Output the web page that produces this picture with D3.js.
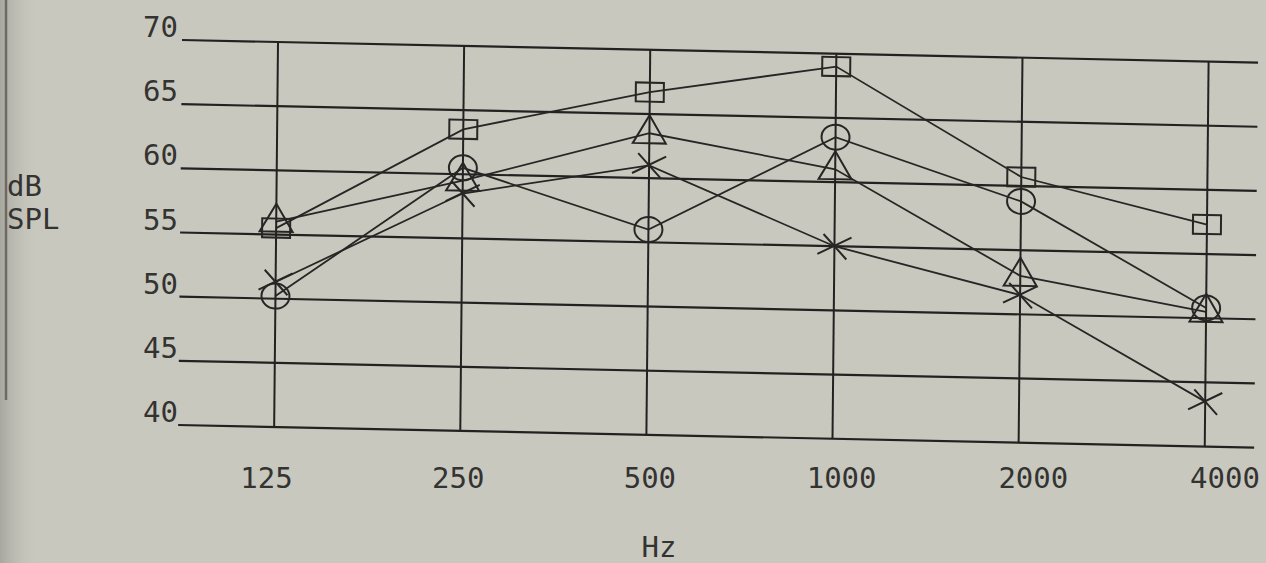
<!DOCTYPE html>
<html><head><meta charset="utf-8">
<script src="https://cdn.jsdelivr.net/npm/d3@7"></script>
<style>html,body{margin:0;padding:0;background:#c9c8bf;overflow:hidden}</style>
</head><body><svg id="c" width="1266" height="563"></svg>
<script>
// ---- data ----
const frequencies = ["125", "250", "500", "1000", "2000", "4000"];
const yTicks = [70, 65, 60, 55, 50, 45, 40];
const squareSeries   = [55.5, 63.5, 66.7, 69.0, 60.7, 57.3];
const triangleSeries = [56.0, 59.5, 63.5, 61.0, 53.0, 50.5];
const circleSeries   = [50.2, 60.5, 56.0, 63.5, 58.8, 50.8];
const crossSeries    = [51.3, 58.5, 61.0, 55.0, 51.5, 43.5];
const yLabelLines = ["dB", "SPL"];
const xLabel = "Hz";

const series = [
  {marker: "square", values: squareSeries},
  {marker: "triangle", values: triangleSeries},
  {marker: "circle", values: circleSeries},
  {marker: "cross", values: crossSeries}
];

// ---- drawing ----
const W = 1266, H = 563;
const ink = "#222220";
const FONT = "'DejaVu Sans Mono', 'Liberation Mono', monospace";
const svg = d3.select("#c");

const defs = svg.append("defs");
const grad = defs.append("linearGradient").attr("id", "edge").attr("x1", 0).attr("x2", 1).attr("y1", 0).attr("y2", 0);
grad.append("stop").attr("offset", 0).attr("stop-color", "#a8a79f").attr("stop-opacity", 1);
grad.append("stop").attr("offset", 1).attr("stop-color", "#c9c8bf").attr("stop-opacity", 0);

svg.append("rect").attr("width", W).attr("height", H).attr("fill", "#c9c8bf");
svg.append("rect").attr("width", 40).attr("height", H).attr("fill", "url(#edge)");
svg.append("line").attr("x1", 6).attr("x2", 6).attr("y1", 0).attr("y2", 400)
  .attr("stroke", "#6b6a64").attr("stroke-width", 2.5);

const x = d3.scalePoint().domain(frequencies).range([278, 1208.6]);
const xLab = d3.scalePoint().domain(frequencies).range([266.5, 1225]);
const y = d3.scaleLinear().domain([40, 70]).range([425, 40]);

// the scanned sheet is slightly skewed
const plot = svg.append("g").attr("transform", "matrix(1,0.021,-0.01,1,0.4,-3.822)");

plot.append("g").selectAll("line").data(yTicks).join("line")
  .attr("x1", 182).attr("x2", 1258)
  .attr("y1", d => y(d)).attr("y2", d => y(d))
  .attr("stroke", ink).attr("stroke-width", 2.2);

plot.append("g").selectAll("line").data(frequencies).join("line")
  .attr("x1", d => x(d)).attr("x2", d => x(d))
  .attr("y1", y(70)).attr("y2", y(40))
  .attr("stroke", ink).attr("stroke-width", 2);

const line = d3.line().x(d => x(d.f)).y(d => y(d.v));
series.forEach(s => {
  const pts = s.values.map((v, i) => ({f: frequencies[i], v}));
  plot.append("path").datum(pts).attr("d", line)
    .attr("fill", "none").attr("stroke", "#262624").attr("stroke-width", 1.8);
});

series.forEach(s => {
  const pts = s.values.map((v, i) => ({f: frequencies[i], v}));
  const g = plot.append("g").attr("fill", "none").attr("stroke", "#262624").attr("stroke-width", 2);
  pts.forEach(p => {
    const cx = x(p.f), cy = y(p.v);
    if (s.marker === "square") {
      g.append("rect").attr("x", cx - 14).attr("y", cy - 9.5).attr("width", 28).attr("height", 19);
    } else if (s.marker === "triangle") {
      g.append("path").attr("d", `M${cx},${cy - 18}L${cx + 16.5},${cy + 10}L${cx - 16.5},${cy + 10}Z`);
    } else if (s.marker === "circle") {
      g.append("ellipse").attr("cx", cx).attr("cy", cy).attr("rx", 14).attr("ry", 12.5);
    } else {
      g.append("path").attr("d",
        `M${cx - 17},${cy + 8}L${cx + 17},${cy - 9}M${cx - 11},${cy - 12}L${cx + 12},${cy + 13}`);
    }
  });
});

// ---- text ----
svg.append("g").selectAll("text").data(yTicks).join("text")
  .attr("x", 178).attr("y", d => y(d) - 3)
  .attr("text-anchor", "end")
  .attr("font-family", FONT).attr("font-size", 29).attr("fill", "#333331")
  .text(d => d);

svg.append("g").selectAll("text").data(frequencies).join("text")
  .attr("x", d => xLab(d)).attr("y", 488)
  .attr("text-anchor", "middle")
  .attr("font-family", FONT).attr("font-size", 29).attr("fill", "#333331")
  .text(d => d);

svg.append("text").attr("x", 659).attr("y", 557).attr("text-anchor", "middle")
  .attr("font-family", FONT).attr("font-size", 29).attr("fill", "#333331").text(xLabel);

svg.append("g").selectAll("text").data(yLabelLines).join("text")
  .attr("x", 7).attr("y", (d, i) => 196 + i * 33)
  .attr("font-family", FONT).attr("font-size", 29).attr("fill", "#333331")
  .text(d => d);
</script>
</body></html>
